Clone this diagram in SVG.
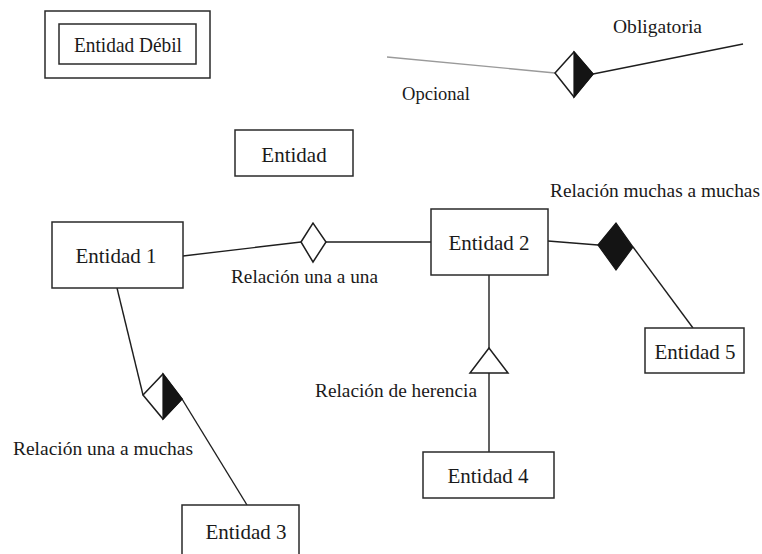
<svg xmlns="http://www.w3.org/2000/svg" width="762" height="554" viewBox="0 0 762 554">
  <style>
    .box { fill: #ffffff; stroke: #2a2a2a; stroke-width: 1.5; }
    .link { fill: none; stroke: #1e1e1e; stroke-width: 1.4; }
    .faint { fill: none; stroke: #9a9a9a; stroke-width: 1.3; }
    .shape { fill: #ffffff; stroke: #1e1e1e; stroke-width: 1.5; stroke-linejoin: miter; }
    .solid { fill: #141414; stroke: #141414; stroke-width: 1.2; }
    .name { font-family: "Liberation Serif", "Times New Roman", serif; font-size: 21px; fill: #1a1a1a; text-anchor: middle; }
    .label { font-family: "Liberation Serif", "Times New Roman", serif; font-size: 19.5px; fill: #1a1a1a; }
  </style>

  <rect width="762" height="554" fill="#ffffff"/>

  <!-- connectors -->
  <g id="connectors">
    <!-- legend: optional / mandatory participation -->
    <line class="faint" x1="387" y1="57" x2="555" y2="73"/>
    <line class="link" x1="593" y1="74" x2="743" y2="44"/>
    <!-- Entidad 1 - one-to-one - Entidad 2 -->
    <line class="link" x1="183" y1="256" x2="301" y2="242"/>
    <line class="link" x1="326" y1="242" x2="431" y2="242"/>
    <!-- Entidad 2 - many-to-many - Entidad 5 -->
    <line class="link" x1="548" y1="241" x2="598" y2="245"/>
    <line class="link" x1="633" y1="247" x2="693" y2="328"/>
    <!-- Entidad 2 - inheritance - Entidad 4 -->
    <line class="link" x1="489" y1="275" x2="489" y2="348"/>
    <line class="link" x1="489" y1="373" x2="489" y2="452"/>
    <!-- Entidad 1 - one-to-many - Entidad 3 -->
    <line class="link" x1="117" y1="288" x2="143" y2="395"/>
    <line class="link" x1="182" y1="399" x2="247" y2="505"/>
  </g>

  <!-- relationship symbols -->
  <g id="legend-diamond">
    <polygon class="shape" points="555,73 574,52 593,74 574,97"/>
    <polygon class="solid" points="574,52 593,74 574,97"/>
  </g>
  <g id="rel-one-to-one">
    <polygon class="shape" points="301,242 313,223 326,242 313,262"/>
  </g>
  <g id="rel-many-to-many">
    <polygon class="solid" points="598,245 616,223 633,247 616,270"/>
  </g>
  <g id="rel-inheritance">
    <polygon class="shape" points="489,348 470,373 508,373"/>
  </g>
  <g id="rel-one-to-many">
    <polygon class="shape" points="143,395 163,374 182,399 163,419"/>
    <polygon class="solid" points="163,374 182,399 163,419"/>
  </g>

  <!-- entities -->
  <g id="entidad-debil">
    <rect class="box" x="45" y="11" width="165" height="67"/>
    <rect class="box" x="59" y="24" width="137" height="40"/>
    <text class="name" x="128" y="52" textLength="108" lengthAdjust="spacingAndGlyphs">Entidad Débil</text>
  </g>
  <g id="entidad">
    <rect class="box" x="235" y="130" width="118" height="46"/>
    <text class="name" x="294" y="162">Entidad</text>
  </g>
  <g id="entidad-1">
    <rect class="box" x="52" y="222" width="131" height="66"/>
    <text class="name" x="116" y="263">Entidad 1</text>
  </g>
  <g id="entidad-2">
    <rect class="box" x="431" y="209" width="117" height="66"/>
    <text class="name" x="489" y="250">Entidad 2</text>
  </g>
  <g id="entidad-3">
    <rect class="box" x="182" y="505" width="117" height="60"/>
    <text class="name" x="246" y="539">Entidad 3</text>
  </g>
  <g id="entidad-4">
    <rect class="box" x="423" y="452" width="131" height="46"/>
    <text class="name" x="488" y="483">Entidad 4</text>
  </g>
  <g id="entidad-5">
    <rect class="box" x="645" y="328" width="99" height="45"/>
    <text class="name" x="695" y="359">Entidad 5</text>
  </g>

  <!-- labels -->
  <g id="labels">
    <text class="label" x="613" y="33" textLength="89" lengthAdjust="spacingAndGlyphs">Obligatoria</text>
    <text class="label" x="402" y="100" textLength="68" lengthAdjust="spacingAndGlyphs">Opcional</text>
    <text class="label" x="231" y="283" textLength="147" lengthAdjust="spacingAndGlyphs">Relación una a una</text>
    <text class="label" x="550" y="197" textLength="210" lengthAdjust="spacingAndGlyphs">Relación muchas a muchas</text>
    <text class="label" x="315" y="397" textLength="162" lengthAdjust="spacingAndGlyphs">Relación de herencia</text>
    <text class="label" x="13" y="455" textLength="180" lengthAdjust="spacingAndGlyphs">Relación una a muchas</text>
  </g>
</svg>
